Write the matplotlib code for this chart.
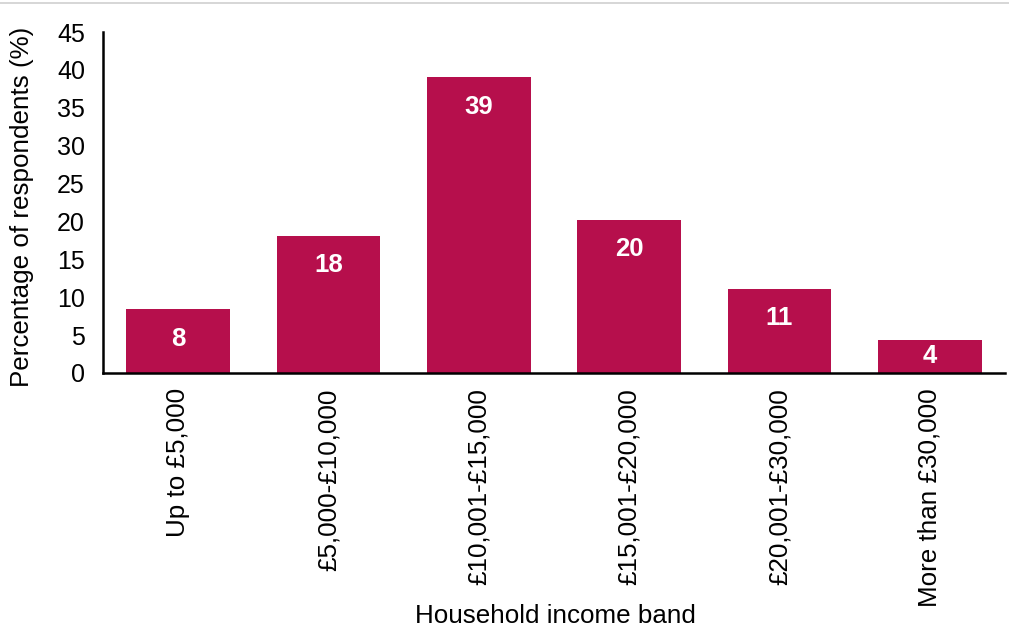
import matplotlib
matplotlib.use("Agg")
import matplotlib.pyplot as plt
from matplotlib.lines import Line2D

# Household income distribution of respondents
bands = ["Up to £5,000", "£5,000-£10,000", "£10,001-£15,000",
         "£15,001-£20,000", "£20,001-£30,000", "More than £30,000"]
percentages = [8.4, 18.1, 39.0, 20.2, 11.1, 4.4]

bar_colour = "#B60F4C"
plt.rcParams["font.family"] = ["Liberation Sans", "DejaVu Sans"]
FS = 18.7

W, H = 1009, 629
fig = plt.figure(figsize=(W / 100, H / 100), dpi=100)
ax = fig.add_axes([103 / W, 1 - 373 / H, 902 / W, 341 / H])

x = range(len(bands))
bars = ax.bar(x, percentages, width=0.69, color=bar_colour)

ax.set_xlim(-0.5, len(bands) - 0.5)
ax.set_ylim(0, 45)
ax.set_yticks(range(0, 46, 5))
ax.set_xticks(list(x))
ax.set_xticklabels(bands, rotation=90, fontsize=FS)
ax.tick_params(axis="y", labelsize=18, length=0, pad=13)
ax.tick_params(axis="x", length=0, pad=11)

for side in ("top", "right"):
    ax.spines[side].set_visible(False)
for side in ("left", "bottom"):
    ax.spines[side].set_linewidth(1.8)
    ax.spines[side].set_color("black")

# Value labels just inside the top of each bar
inset = 3.9
for rect, v in zip(bars, percentages):
    y = max(v - inset, v / 2)
    ax.text(rect.get_x() + rect.get_width() / 2, y, f"{v:.0f}",
            ha="center", va="center", color="white",
            fontsize=18.5, fontweight="bold")

# Axis titles
fig.text(22 / W, 1 - 207 / H, "Percentage of respondents (%)", rotation=90,
         ha="center", va="center", fontsize=FS)
fig.text(555 / W, 1 - 616 / H, "Household income band",
         ha="center", va="center", fontsize=FS)

# thin rule along the top edge of the figure
fig.add_artist(Line2D([0, 1], [1 - 3 / H, 1 - 3 / H], transform=fig.transFigure,
                      color="#d0d0d0", linewidth=1.2))

fig.savefig("out.png", dpi=100)
